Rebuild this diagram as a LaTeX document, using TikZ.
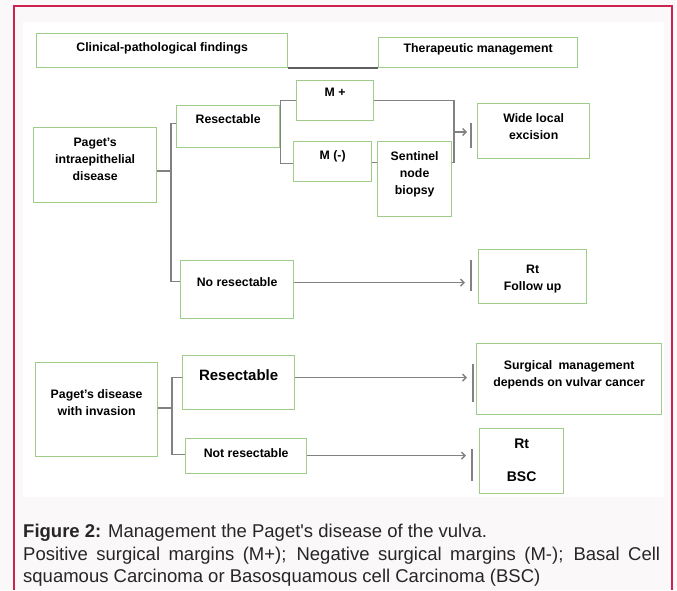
\documentclass[tikz,border=0pt]{standalone}
\usepackage{fontspec}
\setmainfont{Liberation Sans}
\newfontfamily\capfont{Liberation Sans}[Ligatures=TeXOff]
\usetikzlibrary{arrows.meta,calc}
\definecolor{framec}{RGB}{205,35,80}
\definecolor{boxgreen}{RGB}{160,204,138}
\definecolor{linegray}{RGB}{130,130,130}
\definecolor{hdrgray}{RGB}{95,95,95}
\definecolor{pagebg}{RGB}{251,248,249}
\newcommand{\boxtext}[2]{\raisebox{\dimexpr #1pt-3.6pt\relax}[0pt][0pt]{\begin{tabular}{@{}c@{}}#2\end{tabular}}}
\begin{document}
\begin{tikzpicture}[x=1pt,y=1pt,
  box/.style={draw=boxgreen, line width=1.3pt, fill=white, inner sep=0pt, anchor=north west,
    font=\fontsize{12.3}{17}\selectfont\bfseries},
  conn/.style={draw=linegray, line width=1.4pt},
  hdr/.style={draw=hdrgray, line width=2pt},
  arr/.style={conn, -{Straight Barb[length=3.5pt,width=7pt]}},
  bar/.style={draw=linegray, line width=1.8pt},
  caption/.style={anchor=north west, inner sep=0pt, text width=637pt, align=justify,
    font=\capfont\fontsize{18.5}{22.5}\selectfont, text=black!85}]
\useasboundingbox (0,0) rectangle (677,-590);
\fill[pagebg] (0,0) rectangle (677,-590);
\fill[white] (23,-22) rectangle (664,-497);
\draw[framec, line width=1.5pt] (14,-590) -- (14,-6) -- (672,-6) -- (672,-590);

% header
\node[box, minimum width=251pt, minimum height=34pt] (clin) at (36,-33) {\boxtext{3}{Clinical-pathological findings}};
\node[box, minimum width=199pt, minimum height=30pt] (ther) at (378,-37) {\boxtext{4}{Therapeutic management}};
\draw[hdr] (clin.south east) -- (ther.south west);

% group 1
\node[box, minimum width=123pt, minimum height=75pt] (pid) at (33,-127) {\boxtext{5.5}{Paget’s\\intraepithelial\\disease}};
\node[box, minimum width=103pt, minimum height=42pt] (res1) at (176,-105) {\boxtext{7}{Resectable}};
\node[box, minimum width=77pt, minimum height=40pt] (mp) at (296,-80) {\boxtext{8}{M +}};
\node[box, minimum width=78pt, minimum height=40pt] (mm) at (293,-141) {\boxtext{6}{M (-)}};
\node[box, minimum width=74pt, minimum height=75pt] (snb) at (377,-141) {\boxtext{5.5}{Sentinel\\node\\biopsy}};
\node[box, minimum width=112pt, minimum height=55pt] (wle) at (477,-103) {\boxtext{4.5}{Wide local\\excision}};
\node[box, minimum width=113pt, minimum height=58pt] (nores) at (180,-260) {\boxtext{7}{No resectable}};
\node[box, minimum width=108pt, minimum height=54pt] (rtfu) at (478,-249) {\boxtext{-1}{Rt\\Follow up}};

\coordinate (t1) at (171,-171);
\draw[conn] (t1 -| pid.east) -- (t1);
\draw[conn] ($(res1.west)+(0,3)$) -| (t1) |- ($(nores.west)+(0,8)$);
\draw[conn] (mp.west) -| (res1.east) |- ($(mm.west)+(0,-2)$);
\draw[conn] ($(mm.east)+(0,-1)$) -- ($(mm.east -| snb.west)+(0,-1)$);
\coordinate (c1) at (454,-132);
\draw[conn] (mp.east) -| (c1) |- ($(snb.east)+(0,16.5)$);
\draw[arr] (c1) -- ($(c1 -| wle.west)+(-10,0)$);
\draw[bar] ($(wle.west)+(-6,8.5)$) -- ($(wle.west)+(-6,-16.5)$);
\draw[arr] ($(nores.east)+(0,7)$) -- ($(nores.east -| rtfu.west)+(-13,7)$);
\draw[bar] ($(rtfu.west)+(-7,17)$) -- ($(rtfu.west)+(-7,-14)$);

% group 2
\node[box, minimum width=122pt, minimum height=94pt] (pdi) at (35,-362) {\boxtext{6.5}{Paget’s disease\\with invasion}};
\node[box, minimum width=112pt, minimum height=54pt, font=\fontsize{15}{17}\selectfont\bfseries] (res2) at (182,-355) {\boxtext{6}{Resectable}};
\node[box, minimum width=185pt, minimum height=71pt] (surg) at (476,-343) {\boxtext{5.5}{Surgical\hspace{0.5em}management\\depends on vulvar cancer}};
\node[box, minimum width=121pt, minimum height=35pt] (notres) at (185,-438) {\boxtext{2.5}{Not resectable}};
\node[box, minimum width=84pt, minimum height=65pt, font=\fontsize{14}{17}\selectfont\bfseries] (rtbsc) at (479,-428) {\boxtext{0}{Rt\\[16pt]BSC}};

\coordinate (t2) at (172,-408);
\draw[conn] (t2 -| pdi.east) -- (t2);
\draw[conn] ($(res2.west)+(0,5)$) -| (t2) |- ($(notres.west)+(0,1.5)$);
\draw[arr] ($(res2.east)+(0,5)$) -- ($(res2.east -| surg.west)+(-9,5)$);
\draw[bar] ($(surg.west)+(-3,15.5)$) -- ($(surg.west)+(-3,-22.5)$);
\draw[arr] ($(notres.east)+(0,0.5)$) -- ($(notres.east -| rtbsc.west)+(-13,0.5)$);
\draw[bar] ($(rtbsc.west)+(-7,12.5)$) -- ($(rtbsc.west)+(-7,-19.5)$);

% caption
\node[caption] (cap) at (23,-524) {\textbf{Figure 2:} Management the Paget's disease of the vulva.\par
Positive surgical margins (M+); Negative surgical margins (M-); Basal Cell squamous Carcinoma or Basosquamous cell Carcinoma (BSC)};
\end{tikzpicture}
\end{document}
